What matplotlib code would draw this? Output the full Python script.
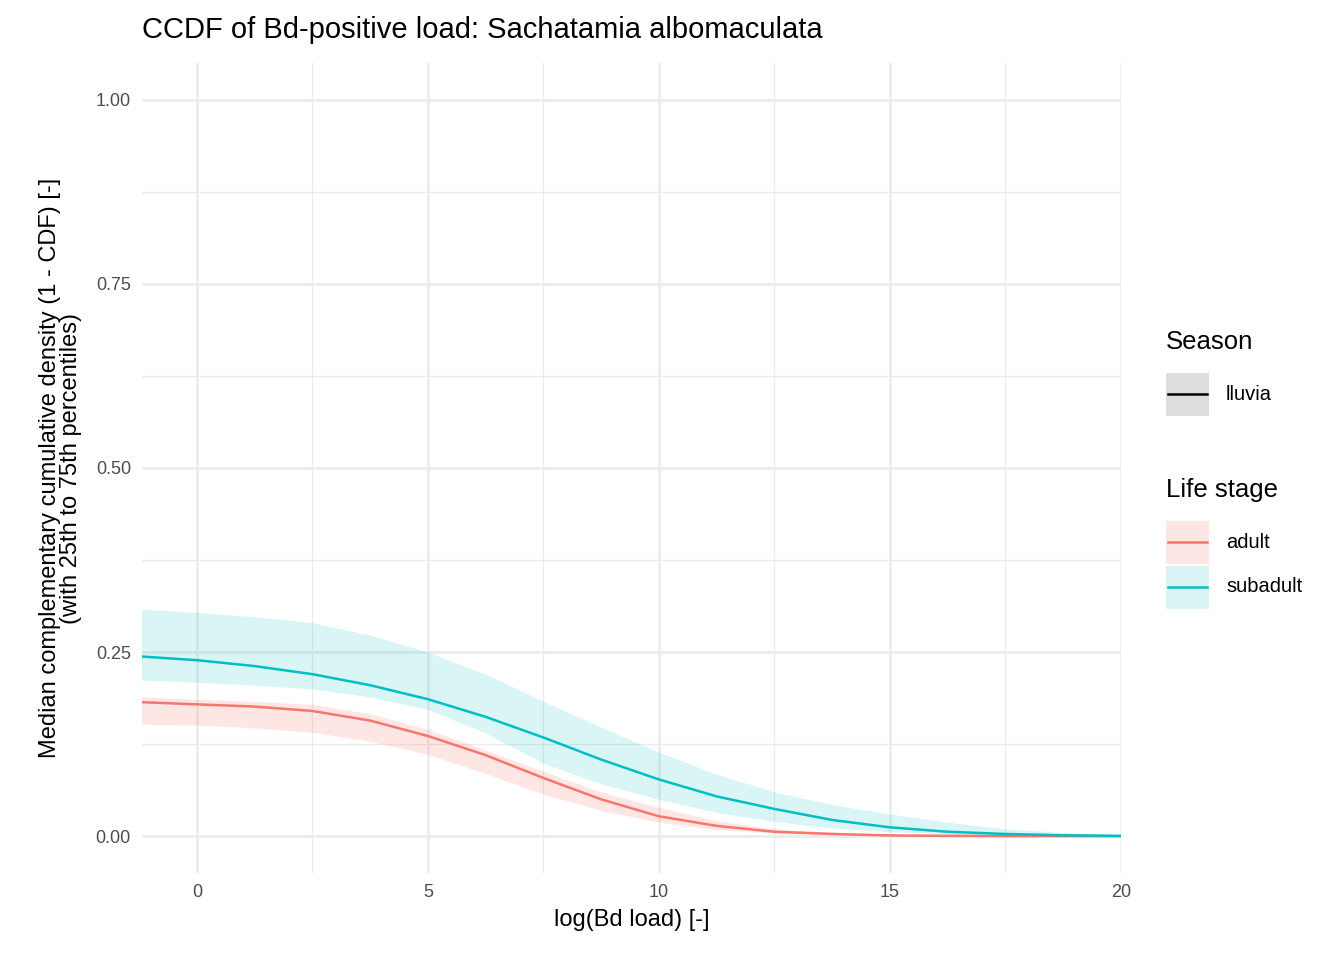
import matplotlib
matplotlib.use('Agg')
import matplotlib.pyplot as plt
import matplotlib.patches as mpatches
from matplotlib.lines import Line2D
import numpy as np

plt.rcParams['font.family'] = ['Liberation Sans', 'DejaVu Sans']

# ── Data ──────────────────────────────────────────────────────────────────────
x_knots = [-1.2, 0, 1.25, 2.5, 3.75, 5, 6.25, 7.5, 8.75, 10, 11.25, 12.5, 13.75, 15, 16.25, 17.5, 18.75, 20]

adult_med = [0.182, 0.179, 0.176, 0.170, 0.157, 0.136, 0.110, 0.079, 0.050, 0.027, 0.014, 0.006, 0.003, 0.001, 0.0005, 0.0002, 0.0001, 0.0]
adult_lo  = [0.152, 0.151, 0.147, 0.141, 0.129, 0.111, 0.085, 0.057, 0.035, 0.019, 0.009, 0.004, 0.002, 0.0008, 0.0003, 0.0001, 0.0, 0.0]
adult_hi  = [0.189, 0.186, 0.183, 0.179, 0.166, 0.145, 0.117, 0.088, 0.060, 0.039, 0.021, 0.010, 0.005, 0.002, 0.001, 0.0004, 0.0002, 0.0001]

sub_med = [0.244, 0.239, 0.231, 0.220, 0.205, 0.186, 0.162, 0.134, 0.104, 0.077, 0.054, 0.037, 0.022, 0.012, 0.006, 0.003, 0.0012, 0.0004]
sub_lo  = [0.212, 0.209, 0.205, 0.200, 0.189, 0.172, 0.140, 0.099, 0.071, 0.050, 0.032, 0.020, 0.011, 0.006, 0.003, 0.0012, 0.0005, 0.0002]
sub_hi  = [0.308, 0.304, 0.298, 0.290, 0.273, 0.250, 0.220, 0.183, 0.148, 0.114, 0.084, 0.060, 0.043, 0.030, 0.019, 0.010, 0.005, 0.002]

x_ticks = [0, 5, 10, 15, 20]
y_ticks = [0.00, 0.25, 0.50, 0.75, 1.00]

RED = '#F8766D'
CYAN = '#00BFC4'
GRID = '#EBEBEB'

fig = plt.figure(figsize=(13.44, 9.6), dpi=100)
ax = fig.add_axes([142 / 1344, 1 - 873 / 960, (1121 - 142) / 1344, (873 - 63) / 960])

ax.fill_between(x_knots, adult_lo, adult_hi, color=RED, alpha=0.18, linewidth=0)
ax.fill_between(x_knots, sub_lo, sub_hi, color=CYAN, alpha=0.15, linewidth=0)
ax.plot(x_knots, adult_med, color=RED, linewidth=1.8)
ax.plot(x_knots, sub_med, color=CYAN, linewidth=1.8)

ax.set_xlim(-1.19, 20)
ax.set_ylim(-0.05, 1.05)
ax.set_xticks(x_ticks)
ax.set_xticklabels([str(t) for t in x_ticks])
ax.set_yticks(y_ticks)
ax.set_yticklabels([f'{t:.2f}' for t in y_ticks])
for v in [2.5, 7.5, 12.5, 17.5]:
    ax.axvline(v, color=GRID, linewidth=0.9, zorder=0)
for v in [0.125, 0.375, 0.625, 0.875]:
    ax.axhline(v, color=GRID, linewidth=0.9, zorder=0)
ax.grid(True, color=GRID, linewidth=1.8, zorder=0)
ax.set_axisbelow(True)
for s in ax.spines.values():
    s.set_visible(False)
ax.tick_params(length=0, labelsize=13, colors='#4D4D4D', pad=8)

ax.set_xlabel('log(Bd load) [-]', fontsize=17, labelpad=6)
ax.set_ylabel('Median complementary cumulative density (1 - CDF) [-]\n(with 25th to 75th percentiles)',
              fontsize=17, linespacing=0.95, labelpad=10)
fig.text(142 / 1344, 1 - 30 / 960, 'CCDF of Bd-positive load: Sachatamia albomaculata',
         fontsize=21, va='center', ha='left')

# ── Legends (drawn by hand, ggplot-style) ─────────────────────────────────────
def key(y_px, color, fill, alpha):
    x0, w, h = 1166, 43, 43
    fig.patches.append(mpatches.Rectangle((x0 / 1344, 1 - (y_px + h / 2) / 960), w / 1344, h / 960,
                                          transform=fig.transFigure, facecolor=fill,
                                          alpha=alpha, edgecolor='none'))
    fig.add_artist(Line2D([(x0 + 2) / 1344, (x0 + w - 2) / 1344], [1 - y_px / 960] * 2,
                          color=color, linewidth=1.8, transform=fig.transFigure))

fig.text(1166 / 1344, 1 - 342 / 960, 'Season', fontsize=18.5, va='center')
key(394, 'black', '#BDBDBD', 0.5)
fig.text(1226 / 1344, 1 - 394 / 960, 'lluvia', fontsize=14.5, va='center')

fig.text(1166 / 1344, 1 - 490 / 960, 'Life stage', fontsize=18.5, va='center')
key(542, RED, RED, 0.18)
fig.text(1226 / 1344, 1 - 542 / 960, 'adult', fontsize=14.5, va='center')
key(587, CYAN, CYAN, 0.15)
fig.text(1226 / 1344, 1 - 587 / 960, 'subadult', fontsize=14.5, va='center')

fig.savefig('out.png', dpi=100)
